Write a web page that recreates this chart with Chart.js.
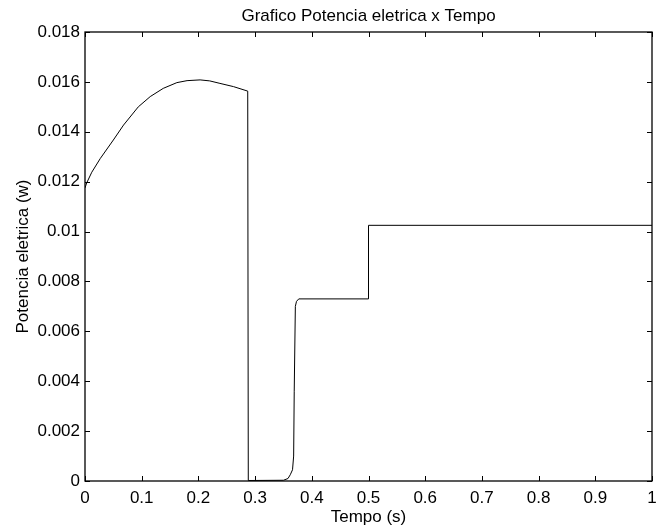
<!DOCTYPE html>
<html>
<head>
<meta charset="utf-8">
<script src="https://cdn.jsdelivr.net/npm/chart.js@4.4.1/dist/chart.umd.min.js"></script>
<style>
html,body{margin:0;padding:0;background:#fff;}
#wrap{width:656px;height:531px;position:relative;}
</style>
</head>
<body>
<div id="wrap"><canvas id="c" width="656" height="531"></canvas></div>
<script>
const chartTitle = 'Grafico Potencia eletrica x Tempo';
const xTitle = 'Tempo (s)';
const yTitle = 'Potencia eletrica (w)';
const xTickLabels = ['0','0.1','0.2','0.3','0.4','0.5','0.6','0.7','0.8','0.9','1'];
const yTickLabels = ['0','0.002','0.004','0.006','0.008','0.01','0.012','0.014','0.016','0.018'];
const timeValues = [0, 0.003, 0.012, 0.027, 0.05, 0.068, 0.094, 0.115, 0.138, 0.162, 0.18, 0.203, 0.22, 0.238, 0.262, 0.287,
  0.288, 0.35, 0.358, 0.362, 0.366, 0.368, 0.369, 0.371, 0.373, 0.377, 0.5, 0.5, 1];
const powerValues = [0.01175, 0.01195, 0.01238, 0.01293, 0.01367, 0.01427, 0.0150, 0.01541, 0.01574, 0.01597, 0.01605, 0.01608, 0.01604, 0.01594, 0.01581, 0.01563,
  0.00002, 0.00003, 0.0001, 0.00025, 0.00045, 0.001, 0.0036, 0.0070, 0.0072, 0.0073, 0.0073, 0.01025, 0.01025];

const points = timeValues.map((t, i) => ({x: t, y: powerValues[i]}));
const FAMILY = '"Liberation Sans", Arial, sans-serif';
const FONT = {family: FAMILY, size: 17};

const boxTicks = {
  id: 'boxTicks',
  afterDatasetsDraw(chart) {
    const {ctx, chartArea: a, scales: {x, y}} = chart;
    const L = 5;
    ctx.save();
    ctx.strokeStyle = '#000';
    ctx.lineWidth = 1;
    ctx.beginPath();
    x.ticks.forEach(tk => {
      const px = Math.round(x.getPixelForValue(tk.value)) + 0.5;
      ctx.moveTo(px, a.bottom); ctx.lineTo(px, a.bottom - L);
      ctx.moveTo(px, a.top); ctx.lineTo(px, a.top + L);
    });
    y.ticks.forEach(tk => {
      const py = Math.round(y.getPixelForValue(tk.value)) + 0.5;
      ctx.moveTo(a.left, py); ctx.lineTo(a.left + L, py);
      ctx.moveTo(a.right, py); ctx.lineTo(a.right - L, py);
    });
    ctx.stroke();
    ctx.lineWidth = 1.3;
    ctx.strokeRect(a.left, a.top, a.right - a.left, a.bottom - a.top);
    // title centred over the axes, as in the reference
    ctx.fillStyle = '#000';
    ctx.font = '17px ' + FAMILY;
    ctx.textAlign = 'center';
    ctx.textBaseline = 'alphabetic';
    ctx.fillText(chartTitle, (a.left + a.right) / 2, 21);
    ctx.restore();
  }
};

new Chart(document.getElementById('c'), {
  type: 'line',
  data: {
    datasets: [{
      data: points,
      borderColor: '#000',
      borderWidth: 1,
      pointRadius: 0,
      tension: 0,
      fill: false
    }]
  },
  options: {
    responsive: false,
    animation: false,
    layout: {padding: {left: 0, right: 4, top: 32, bottom: 0}},
    plugins: {
      legend: {display: false},
      tooltip: {enabled: false},
      title: {display: false}
    },
    scales: {
      x: {
        type: 'linear',
        min: 0, max: 1,
        afterFit(s) { s.height = 50; s.paddingLeft = 0; s.paddingRight = 0; },
        grid: {display: true, drawOnChartArea: false, drawTicks: false},
        border: {display: false},
        ticks: {
          stepSize: 0.1, autoSkip: false, maxRotation: 0, padding: 7,
          color: '#000', font: FONT,
          callback: (v, i) => xTickLabels[i]
        },
        title: {display: true, text: xTitle, color: '#000', font: FONT, padding: {top: 0, bottom: 3}}
      },
      y: {
        type: 'linear',
        min: 0, max: 0.018,
        afterFit(s) { s.width = 85; s.paddingTop = 0; s.paddingBottom = 0; },
        grid: {display: true, drawOnChartArea: false, drawTicks: false},
        border: {display: false},
        ticks: {
          stepSize: 0.002, autoSkip: false, padding: 5,
          color: '#000', font: FONT,
          callback: (v, i) => yTickLabels[i]
        },
        title: {display: true, text: yTitle, color: '#000', font: FONT, padding: {top: 13, bottom: 0}}
      }
    }
  },
  plugins: [boxTicks]
});
</script>
</body>
</html>
